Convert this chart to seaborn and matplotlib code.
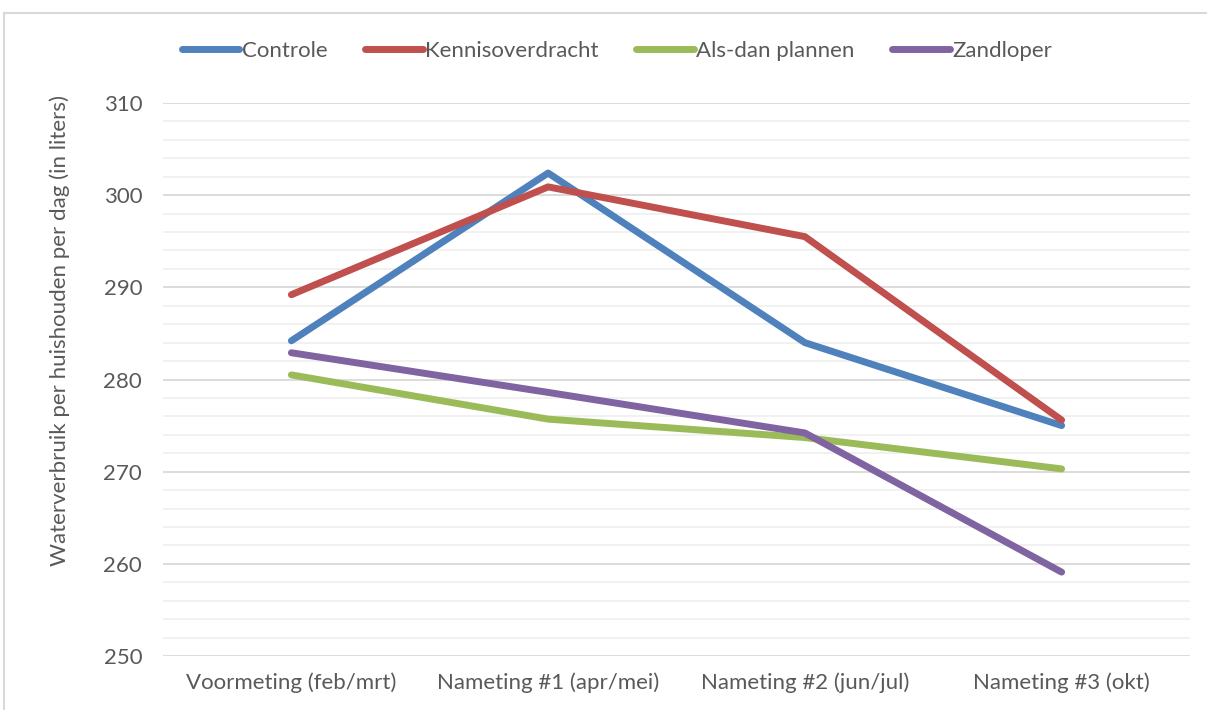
import pandas as pd
import seaborn as sns
import matplotlib.pyplot as plt
from matplotlib.patches import Rectangle

# measurement moments and the mean water use per group (liters per household per day)
moments = ['Voormeting (feb/mrt)', 'Nameting #1 (apr/mei)',
           'Nameting #2 (jun/jul)', 'Nameting #3 (okt)']
groups = ['Controle', 'Kennisoverdracht', 'Als-dan plannen', 'Zandloper']
controle = [284.2, 302.4, 284.0, 275.0]
kennisoverdracht = [289.2, 300.9, 295.5, 275.6]
als_dan = [280.5, 275.7, 273.7, 270.3]
zandloper = [282.9, 278.6, 274.2, 259.1]
y_ticks = [250, 260, 270, 280, 290, 300, 310]

colors = ['#4F81BD', '#C0504D', '#9BBB59', '#8064A2']
text_col = '#595959'

rows = []
for g, vals in zip(groups, [controle, kennisoverdracht, als_dan, zandloper]):
    for i, v in enumerate(vals):
        rows.append({'moment': i, 'groep': g, 'liters': v})
df = pd.DataFrame(rows)

sns.set_theme(style='white')
plt.rcParams['font.family'] = ['Lato', 'DejaVu Sans']

fig = plt.figure(figsize=(12.07, 7.10), dpi=100)
ax = fig.add_axes([163 / 1207, 54 / 710, 1027 / 1207, 553 / 710])

# thin grey frame around the chart area, like the Excel chart border
fig.patches.append(Rectangle((4 / 1207, -0.01), 1.0, 1 - 13 / 710 + 0.01,
                             transform=fig.transFigure, fill=False,
                             edgecolor='#D9D9D9', linewidth=1.5))

sns.lineplot(data=df, x='moment', y='liters', hue='groep', hue_order=groups,
             palette=colors, linewidth=5, ax=ax, legend=False,
             solid_capstyle='round', solid_joinstyle='round')

ax.set_xlim(-0.5, 3.5)
ax.set_ylim(250, 310)
ax.set_yticks(y_ticks)
ax.set_yticks([v for v in range(250, 311, 2) if v % 10], minor=True)
ax.set_xticks(range(len(moments)))
ax.set_xticklabels(moments)
ax.grid(axis='y', which='major', color='#D9D9D9', linewidth=1.3)
ax.grid(axis='y', which='minor', color='#F0F0F0', linewidth=1.3)
ax.set_axisbelow(True)
for s in ax.spines.values():
    s.set_visible(False)
ax.tick_params(axis='both', which='both', length=0, labelsize=16,
               labelcolor=text_col)
ax.tick_params(axis='x', pad=12)
ax.tick_params(axis='y', pad=15)
ax.set_xlabel('')
ax.set_ylabel('')

fig.text(60 / 1207, 1 - 331 / 710,
         'Waterverbruik per huishouden per dag (in liters)',
         rotation=90, ha='center', va='center', fontsize=16, color=text_col)

handles = [plt.Line2D([], [], color=c, linewidth=5, solid_capstyle='round')
           for c in colors]
leg = fig.legend(handles, groups, loc='center', bbox_to_anchor=(617 / 1207, 1 - 51 / 710),
                 ncol=4, frameon=False, fontsize=16, handlelength=2.6,
                 handletextpad=0.1, columnspacing=1.7)
for t in leg.get_texts():
    t.set_color(text_col)

fig.savefig('out.png', dpi=100)
